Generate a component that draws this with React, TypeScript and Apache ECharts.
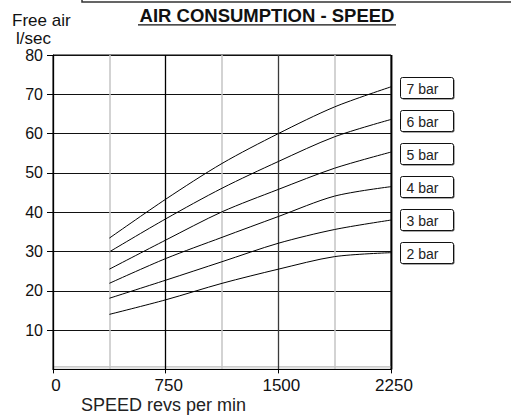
import React, { useEffect, useRef } from "react";
import * as echarts from "echarts";

const speeds = [375, 750, 1125, 1500, 1875, 2250];
const bar7 = [33.4, 43.3, 52.4, 60.0, 66.8, 71.9];
const bar6 = [29.9, 38.3, 46.1, 52.9, 59.2, 63.6];
const bar5 = [25.5, 32.9, 40.1, 45.8, 51.2, 55.3];
const bar4 = [21.9, 28.2, 33.6, 38.9, 44.1, 46.5];
const bar3 = [18.1, 22.7, 27.4, 32.1, 35.6, 38.0];
const bar2 = [14.0, 17.7, 21.9, 25.5, 28.7, 29.7];
const seriesNames = ["7 bar", "6 bar", "5 bar", "4 bar", "3 bar", "2 bar"];
const seriesValues = [bar7, bar6, bar5, bar4, bar3, bar2];
const title = "AIR CONSUMPTION - SPEED";
const yName1 = "Free air";
const yName2 = "l/sec";
const xName = "SPEED revs per min";

const FONT = "'Liberation Sans', Arial, sans-serif";

export default function App() {
  const ref = useRef<HTMLDivElement>(null);
  useEffect(() => {
    if (!ref.current) return;
    const chart = echarts.init(ref.current, null, { renderer: "svg" });
    const gl = 53, gt = 55, gr = 391, gb = 369.4;

    const boxes: any[] = seriesNames.map((name, i) => ({
      type: "group",
      x: 400.5,
      y: 77.5 + i * 33,
      children: [
        { type: "rect", shape: { x: 1, y: 1, width: 53, height: 21, r: 2 }, style: { fill: "#555" } },
        { type: "rect", shape: { x: 0, y: 0, width: 53, height: 21, r: 2 }, style: { fill: "#fff", stroke: "#111", lineWidth: 1 } },
        {
          type: "text",
          x: 6,
          y: 11,
          style: { text: name, fontSize: 14, fontFamily: FONT, fill: "#222", verticalAlign: "middle", align: "left" },
        },
      ],
    }));

    chart.setOption({
      animation: false,
      backgroundColor: "#fff",
      grid: {
        left: gl,
        top: gt,
        width: gr - gl,
        height: gb - gt,
        containLabel: false,
        outerBoundsMode: "none",
        show: true,
        borderColor: "#000",
        borderWidth: 1,
      },
      xAxis: {
        type: "value",
        min: 0,
        max: 2250,
        interval: 750,
        axisLine: { show: true, lineStyle: { color: "#000", width: 1 } },
        axisTick: { show: true, length: 4, lineStyle: { color: "#000" } },
        axisLabel: {
          fontSize: 17,
          color: "#111",
          fontFamily: FONT,
          margin: 8,
          padding: [0, 0, 0, 6],
          formatter: (v: number) => String(v),
        },
        splitLine: { show: true, lineStyle: { color: ["#000", "#000", "#3a3a3a", "#000"], width: 1.3 } },
        minorTick: { show: false, splitNumber: 2 },
        minorSplitLine: { show: true, lineStyle: { color: "#c4c4c4", width: 1.5 } },
      },
      yAxis: {
        type: "value",
        min: 0,
        max: 80,
        interval: 10,
        axisLine: { show: true, lineStyle: { color: "#000", width: 1 } },
        axisTick: { show: true, length: 6, lineStyle: { color: "#000" } },
        axisLabel: { fontSize: 16, lineHeight: 12, color: "#111", fontFamily: FONT, margin: 10, showMinLabel: false },
        splitLine: { show: true, lineStyle: { color: "#111", width: 1 } },
      },
      series: seriesValues.map((vals, i) => ({
        type: "line",
        name: seriesNames[i],
        data: speeds.map((s, j) => [s, vals[j]]),
        showSymbol: false,
        smooth: 0.3,
        lineStyle: { color: "#000", width: 1 },
        z: 5,
      })),
      graphic: [
        { type: "polyline", shape: { points: [[82, 0], [82, 2], [511, 2]] }, style: { stroke: "#333", lineWidth: 1.5, fill: null } },
        {
          type: "text",
          x: 267,
          y: 24.7,
          style: { text: title, fontSize: 18.5, fontWeight: "bold", fontFamily: FONT, fill: "#111", align: "center", verticalAlign: "bottom" },
        },
        { type: "line", shape: { x1: 138, y1: 24.8, x2: 396, y2: 24.8 }, style: { stroke: "#111", lineWidth: 1.3 } },
        {
          type: "text",
          x: 12,
          y: 27.5,
          style: { text: yName1, fontSize: 17, lineHeight: 14, fontFamily: FONT, fill: "#111", align: "left", verticalAlign: "bottom" },
        },
        {
          type: "text",
          x: 16,
          y: 45,
          style: { text: yName2, fontSize: 17, lineHeight: 14, fontFamily: FONT, fill: "#111", align: "left", verticalAlign: "bottom" },
        },
        {
          type: "text",
          x: 81,
          y: 414,
          style: { text: xName, fontSize: 18, fontFamily: FONT, fill: "#222", align: "left", verticalAlign: "bottom" },
        },
        { type: "line", shape: { x1: gr + 0.5, y1: gt, x2: gr + 0.5, y2: gb }, style: { stroke: "#555", lineWidth: 2 } },
        { type: "line", shape: { x1: gl, y1: gb - 2.5, x2: gr, y2: gb - 2.5 }, style: { stroke: "#aaa", lineWidth: 1 } },
        ...boxes,
      ],
    });
    return () => chart.dispose();
  }, []);
  return <div ref={ref} style={{ position: "fixed", left: 0, top: 0, width: 511, height: 420 }} />;
}
